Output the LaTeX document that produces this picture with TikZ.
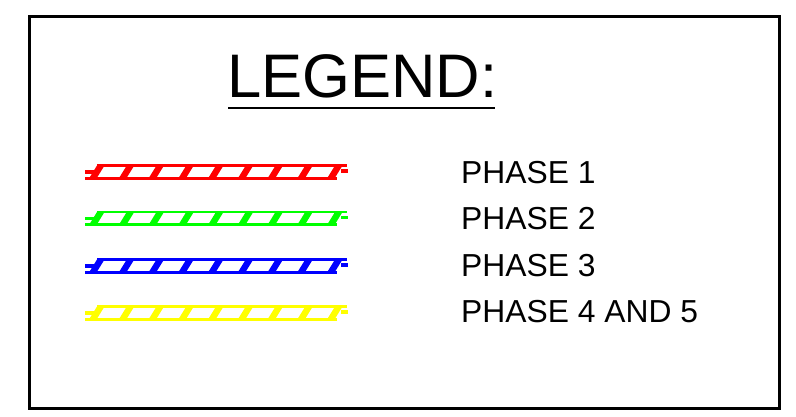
\documentclass[tikz,border=0pt]{standalone}
\usepackage{fontspec}
\setmainfont{Liberation Sans}
\definecolor{pyellow}{RGB}{255,255,0}
\definecolor{pgreen}{RGB}{0,255,0}
\definecolor{pblue}{RGB}{0,0,255}
\definecolor{pred}{RGB}{255,0,0}
\newcommand{\hatchline}[2]{%
  % #1 colour, #2 centre y
  \draw[#1, line width=2.2pt] (97,#2-6) -- (347,#2-6);
  \draw[#1, line width=3pt] (85,#2+6.5) -- (337,#2+6.5);
  \draw[#1, line width=3.2pt] (85,#2+0.5) -- (97,#2+0.5);
  \draw[#1, line width=3.2pt] (341,#2-0.5) -- (348,#2-0.5);
  \foreach \i in {0,...,8} {
    \fill[#1] ({89+29.75*\i},#2+7) -- ({96.5+29.75*\i},#2+7) -- ({104.5+29.75*\i},#2-6) -- ({97+29.75*\i},#2-6) -- cycle;
  }
}
\tikzset{
  phase/.style={anchor=base west, inner sep=0pt, font=\fontsize{31.8}{31.8}\selectfont},
}
\begin{document}
\begin{tikzpicture}[x=1pt,y=-1pt]
\useasboundingbox (0,0) rectangle (796,416);
\fill[white] (0,0) rectangle (796,416);
\draw[black, line width=3pt] (29.5,16.5) rectangle (779,408);
\node[anchor=base west, inner sep=0pt, font=\fontsize{61.5}{61.5}\selectfont] (title) at (227,97) {LEGEND:};
\draw[black, line width=2pt] (228,108) -- (495,108);
\hatchline{pred}{171.5}
\hatchline{pgreen}{218}
\hatchline{pblue}{265.5}
\hatchline{pyellow}{312.5}
\node[phase] (p1) at (461,183) {PHASE 1};
\node[phase] (p2) at (461,229) {PHASE 2};
\node[phase] (p3) at (461,276) {PHASE 3};
\node[phase] (p4) at (461,322) {PHASE 4 AND 5};
\end{tikzpicture}
\end{document}
